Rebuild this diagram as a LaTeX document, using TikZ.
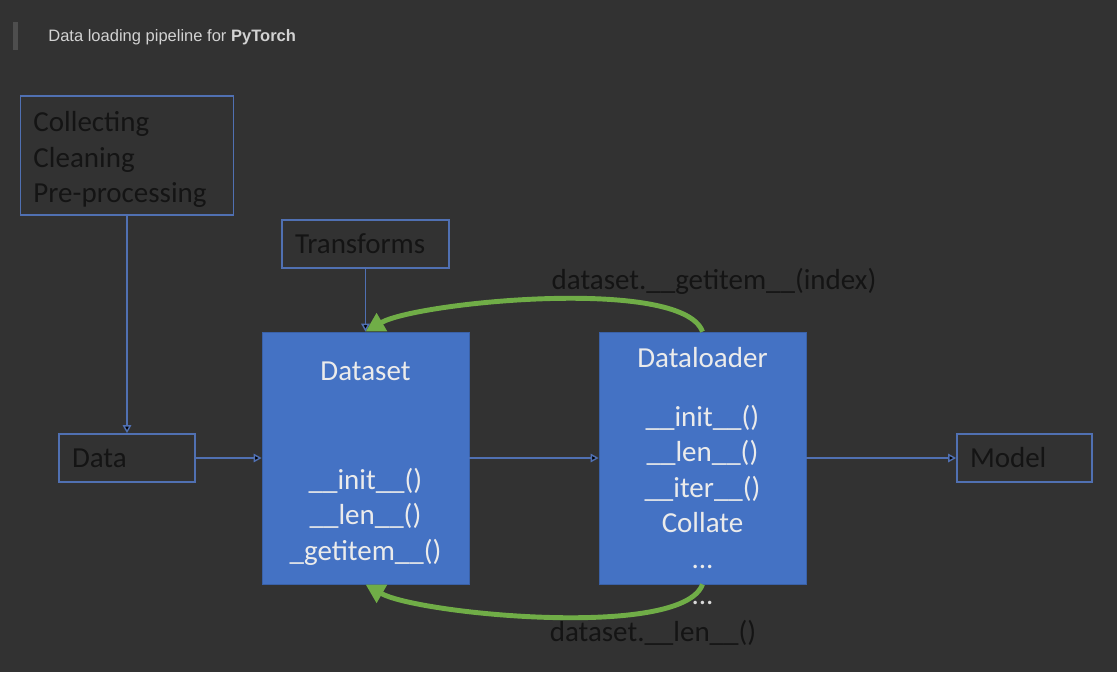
\documentclass[tikz,border=0pt]{standalone}
\usepackage{fontspec}
\setmainfont{Carlito}
\newfontfamily\titlefont{Liberation Sans}
\usetikzlibrary{arrows.meta}
\definecolor{bgdark}{HTML}{323232}
\definecolor{bargray}{HTML}{4E4E4E}
\definecolor{edgeblue}{HTML}{5070B2}
\definecolor{fillblue}{HTML}{4472C4}
\definecolor{arrowgreen}{HTML}{70AD47}
\definecolor{titlegray}{HTML}{D2D2D2}

\begin{document}
\begin{tikzpicture}[
        s/.style={draw=edgeblue,line width=1pt,rectangle,inner xsep=2.6mm,inner ysep=1mm,align=left,text=black!92,font=\fontsize{16.5}{20.2}\selectfont},
        b/.style={fill=fillblue,draw=fillblue!85!black,rectangle,minimum width=41.4mm,minimum height=50.4mm,text width=38mm,align=center,text=white!92!black,font=\fontsize{16.5}{20.2}\selectfont},
        l/.style={text=black!92,font=\fontsize{16.5}{20.2}\selectfont},
        ln/.style={draw=edgeblue,line width=0.8pt,-{Triangle[length=1.6mm,width=1.7mm]}},
        g/.style={draw=arrowgreen,line width=2.8pt,-{Triangle[length=3.8mm,width=4mm]},looseness=0.45}
    ]

    \fill[bgdark] (0,0) rectangle (22.34,-13.44);
    \useasboundingbox (0,0) rectangle (22.34,-13.44);

    \fill[bargray] (0.26,-0.44) rectangle (0.36,-1.0);
    \node[anchor=west,inner sep=0,text=titlegray,font=\titlefont\fontsize{9.4}{11}\selectfont] (title) at (0.96,-0.74) {Data loading pipeline for \textbf{PyTorch}};

    \node[s,text width=22mm,minimum height=9.6mm] (data) at (2.54,-9.16) {Data};
    \node[s,above of=data,node distance=60.5mm,text width=37.4mm,minimum height=23.8mm] (prep) {\rule{0pt}{5.6mm}Collecting\\Cleaning\\Pre-processing};
    \node[b,right of=data,node distance=47.7mm] (dataset) {\rule{0pt}{6mm}Dataset\\[14.6mm] \_\_init\_\_()\\ \_\_len\_\_()\\ \_getitem\_\_()};
    \node[s,above of=dataset,node distance=42.8mm,text width=28.2mm,minimum height=9.6mm] (trans) {Transforms};
    \node[b,right of=dataset,node distance=67.4mm] (loader) {Dataloader\\[4.6mm] \_\_init\_\_()\\ \_\_len\_\_()\\ \_\_iter\_\_()\\ Collate\\ ...};
    \node[s,right of=loader,node distance=64.4mm,text width=21.8mm,minimum height=9.6mm] (model) {Model};

    \node[l,above of=loader,node distance=35.4mm,xshift=2.3mm] (getlbl) {dataset.\_\_getitem\_\_(index)};
    \node[l,below of=loader,node distance=35mm,xshift=-9.9mm] (lenlbl) {dataset.\_\_len\_\_()};

    \draw[ln]
        (prep) edge (data)
        (trans) edge (dataset)
        (data) edge (dataset)
        (dataset) edge (loader)
        (loader) edge (model)
        ;

    \draw[g] (loader.north) to[out=110,in=30] (dataset.north);
    \draw[g] (loader.south) to[out=-110,in=-30] (dataset.south);

    \node[below of=loader,node distance=29mm,text=white!85!black,font=\fontsize{16.5}{20.2}\selectfont] (dots) {...};

\end{tikzpicture}
\end{document}
